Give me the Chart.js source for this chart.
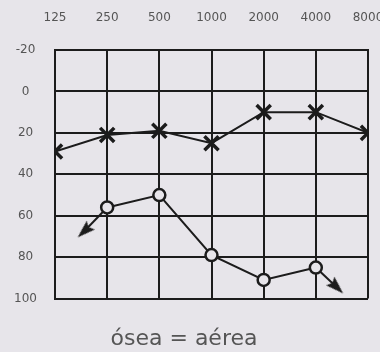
<!DOCTYPE html>
<html><head><meta charset="utf-8">
<script src="https://cdn.jsdelivr.net/npm/chart.js@4"></script>
<style>html,body{margin:0;padding:0;background:#e7e5ea;}</style>
</head><body>
<canvas id="c" width="380" height="352"></canvas>
<script>
const freqLabels = ['125', '250', '500', '1000', '2000', '4000', '8000'];
const freqIndex = [0, 1, 2, 3, 4, 5, 6];
const airValues = [29, 21, 19, 25, 10, 10, 20];
const boneIndex = [1, 2, 3, 4, 5];
const boneValues = [56, 50, 79, 91, 85];
const arrowLeftX = [1, 0.56];
const arrowLeftY = [56, 67.5];
const arrowRightX = [5, 5.40];
const arrowRightY = [85, 94.5];
const noteText = 'ósea = aérea';

const BG = '#e7e5ea';
const INK = '#1c1c1c';

// arrowhead image (points up)
const head = document.createElement('canvas');
head.width = 12; head.height = 18;
(function () {
  const g = head.getContext('2d');
  g.fillStyle = INK;
  g.beginPath();
  g.moveTo(6, 0); g.lineTo(12, 18); g.lineTo(6, 15); g.lineTo(0, 18);
  g.closePath(); g.fill();
})();

const toPts = (xs, ys) => xs.map((x, i) => ({ x: x, y: ys[i] }));

const arrowDs = (xs, ys, rot) => ({
  data: toPts(xs, ys),
  borderColor: INK,
  borderWidth: 2,
  pointStyle: ['circle', head],
  pointRadius: [0, 3],
  rotation: [0, rot],
  order: 3
});

new Chart(document.getElementById('c'), {
  type: 'line',
  data: {
    datasets: [
      {
        data: toPts(freqIndex, airValues),
        borderColor: INK,
        borderWidth: 2,
        pointStyle: 'crossRot',
        pointRadius: 10,
        pointBorderWidth: 3.5,
        pointBorderColor: INK,
        order: 0
      },
      {
        data: toPts(boneIndex, boneValues),
        borderColor: INK,
        borderWidth: 2,
        pointStyle: 'circle',
        pointRadius: 6,
        pointBorderWidth: 2.5,
        pointBorderColor: INK,
        pointBackgroundColor: BG,
        order: 1
      },
      arrowDs(arrowLeftX, arrowLeftY, 227),
      arrowDs(arrowRightX, arrowRightY, 134)
    ]
  },
  options: {
    responsive: false,
    animation: false,
    events: [],
    layout: { autoPadding: false, padding: { left: 0, right: 12, top: 0, bottom: 0 } },
    plugins: {
      legend: { display: false },
      tooltip: { enabled: false },
      title: {
        display: true,
        position: 'bottom',
        text: noteText,
        color: '#555',
        font: { family: 'DejaVu Sans', size: 22, weight: 'normal' },
        padding: { top: 27, bottom: 0 }
      }
    },
    scales: {
      x: {
        type: 'linear',
        position: 'top',
        min: 0, max: 6,
        afterFit: s => { s.height = 50; s.paddingLeft = 0; s.paddingRight = 0; },
        ticks: {
          stepSize: 1,
          autoSkip: false,
          maxRotation: 0,
          padding: 25,
          color: '#555',
          font: { family: 'DejaVu Sans', size: 12 },
          callback: v => freqLabels[v]
        },
        grid: { color: INK, lineWidth: 2, drawTicks: false },
        border: { color: INK, width: 2 }
      },
      y: {
        reverse: true,
        min: -20, max: 100,
        afterFit: s => { s.width = 55; },
        ticks: {
          stepSize: 20,
          padding: 18,
          crossAlign: 'center',
          color: '#555',
          font: { family: 'DejaVu Sans', size: 12 }
        },
        grid: { color: INK, lineWidth: 2, drawTicks: false },
        border: { color: INK, width: 2 }
      }
    }
  },
  plugins: [{
    id: 'bg',
    beforeDraw: c => { const x = c.ctx; x.save(); x.fillStyle = BG; x.fillRect(0, 0, c.width, c.height); x.restore(); }
  }]
});
</script>
</body></html>
